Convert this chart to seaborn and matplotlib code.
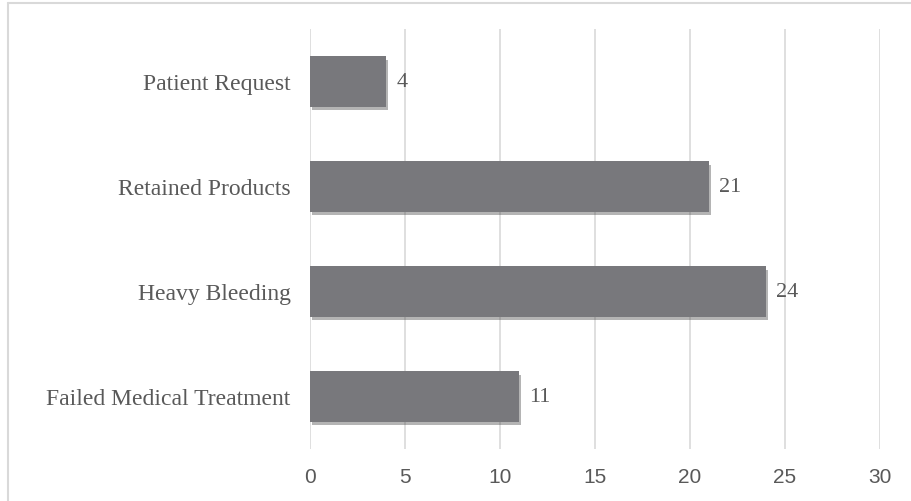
import matplotlib
matplotlib.use("Agg")
import matplotlib.pyplot as plt
import matplotlib.patheffects as pe
from matplotlib.lines import Line2D
import seaborn as sns
import pandas as pd

# data
reasons = ["Patient Request", "Retained Products", "Heavy Bleeding", "Failed Medical Treatment"]
counts = [4, 21, 24, 11]

df = pd.DataFrame({"reason": reasons, "count": counts})

sns.set_style("white")
plt.rcParams["font.family"] = ["Liberation Serif", "DejaVu Serif"]

text_col = "#595959"
bar_col = "#78787c"

fig = plt.figure(figsize=(9.12, 5.02), dpi=100)
ax = fig.add_axes([310 / 912, 1 - 450 / 502, 570 / 912, 420 / 502])

sns.barplot(data=df, x="count", y="reason", color=bar_col, width=0.48,
            saturation=1, linewidth=0, ax=ax, zorder=3)

for p in ax.patches:
    p.set_edgecolor("none")
    p.set_path_effects([pe.SimplePatchShadow(offset=(1.5, -2.5), shadow_rgbFace="#444444", alpha=0.4),
                        pe.Normal()])

for p, v in zip(ax.patches, counts):
    ax.text(p.get_width() + 0.55, p.get_y() + p.get_height() / 2, str(v),
            va="center", ha="left", fontsize=16, color=text_col)

ax.set_xlim(0, 30)
ax.set_ylim(3.5, -0.5)
ax.set_xticks(range(0, 31, 5))
ax.xaxis.grid(True, color="#d9d9d9", linewidth=1.2, zorder=0)
ax.set_axisbelow(True)
for s in ax.spines.values():
    s.set_visible(False)
ax.set_xlabel("")
ax.set_ylabel("")
ax.tick_params(axis="both", length=0, colors=text_col)
ax.tick_params(axis="y", labelsize=17, pad=14)
ax.tick_params(axis="x", labelsize=15, pad=13)
for lbl in ax.get_xticklabels():
    lbl.set_fontfamily(["Liberation Sans Narrow", "Liberation Sans", "DejaVu Sans"])

# outer chart frame (left and top edges only are visible)
fig.add_artist(Line2D([8 / 912, 8 / 912], [0, 1 - 4 / 502], color="#d9d9d9", lw=1.5))
fig.add_artist(Line2D([8 / 912, 1], [1 - 4 / 502, 1 - 4 / 502], color="#d9d9d9", lw=1.5))

fig.savefig("out.png", dpi=100)
